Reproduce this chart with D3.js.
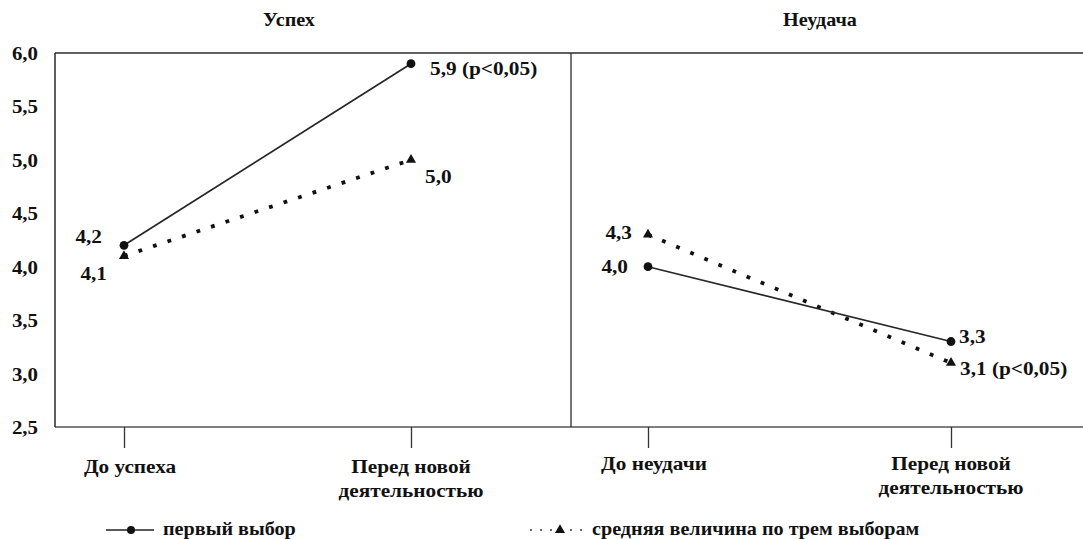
<!DOCTYPE html>
<html>
<head>
<meta charset="utf-8">
<script src="https://cdn.jsdelivr.net/npm/d3@7"></script>
<style>
  html, body { margin: 0; padding: 0; background: #fff; }
  svg { display: block; }
  svg text {
    font-family: "Liberation Serif", "Tinos", "Times New Roman", "Nimbus Roman", "Nimbus Roman No9 L", "FreeSerif", "Noto Serif", "DejaVu Serif", Georgia, serif !important;
    font-weight: bold;
    fill: #111;
  }
</style>
</head>
<body>
<svg id="chart" width="1083" height="539"></svg>
<script>
// data
const panelTitles = ['Успех', 'Неудача']
const categoriesSuccess = ['До успеха', 'Перед новой|деятельностью']
const categoriesFailure = ['До неудачи', 'Перед новой|деятельностью']
const firstChoiceSuccess = [4.2, 5.9]
const averageSuccess = [4.1, 5.0]
const firstChoiceFailure = [4.0, 3.3]
const averageFailure = [4.3, 3.1]
const notesFirstSuccess = ['', ' (p<0,05)']
const notesAverageSuccess = ['', '']
const notesFirstFailure = ['', '']
const notesAverageFailure = ['', ' (p<0,05)']
const yTicks = [2.5, 3.0, 3.5, 4.0, 4.5, 5.0, 5.5, 6.0]
const seriesNames = ['первый выбор', 'средняя величина по трем выборам']

const W = 1083
const frame = { left: 55, mid: 571, right: W, top: 53, bottom: 427 }

const locale = d3.formatLocale({ decimal: ',', thousands: ' ', grouping: [3], currency: ['', ''] })
const fmt = locale.format('.1f')

const svg = d3.select('#chart')

const y = d3.scaleLinear()
  .domain([2.5, 6.0])
  .range([frame.bottom, frame.top])

// label offsets: [dx, dy, anchor] per point
const panels = [
  {
    title: panelTitles[0],
    titleX: 289,
    categories: categoriesSuccess,
    range: [124, 411],
    first: firstChoiceSuccess,
    average: averageSuccess,
    notesFirst: notesFirstSuccess,
    notesAverage: notesAverageSuccess,
    offFirst: [[-22, -2, 'end'], [19, 11, 'start']],
    offAverage: [[-17, 24, 'end'], [14, 23, 'start']],
    labelY: [473, 497],
  },
  {
    title: panelTitles[1],
    titleX: 820,
    categories: categoriesFailure,
    range: [648, 951],
    first: firstChoiceFailure,
    average: averageFailure,
    notesFirst: notesFirstFailure,
    notesAverage: notesAverageFailure,
    offFirst: [[-20, 6, 'end'], [8, 1, 'start']],
    offAverage: [[-16, 4, 'end'], [9, 12, 'start']],
    labelY: [470, 494],
  },
]

// frame
const frameG = svg.append('g')
  .attr('fill', 'none')
  .attr('stroke', '#2a2a2a')
  .attr('stroke-width', 1.5)

frameG.append('line')
  .attr('x1', frame.left).attr('x2', frame.right)
  .attr('y1', frame.top).attr('y2', frame.top)
frameG.append('line')
  .attr('x1', frame.left).attr('x2', frame.right)
  .attr('y1', frame.bottom).attr('y2', frame.bottom)
  .attr('stroke', '#555')
frameG.append('line')
  .attr('x1', frame.left).attr('x2', frame.left)
  .attr('y1', frame.top).attr('y2', frame.bottom)
frameG.append('line')
  .attr('x1', frame.mid).attr('x2', frame.mid)
  .attr('y1', frame.top).attr('y2', frame.bottom)
  .attr('stroke-width', 1.3)

// y axis
const yAxis = svg.append('g')
  .attr('transform', `translate(${frame.left},0)`)
  .call(d3.axisLeft(y).tickValues(yTicks).tickSize(0).tickPadding(17).tickFormat(fmt))

yAxis.attr('font-family', null).attr('font-size', null)
yAxis.select('.domain').remove()
yAxis.selectAll('text')
  .attr('font-size', 19)
  .attr('dy', '0.34em')
  .attr('transform', 'scale(1.1,1)')
  .attr('x', -17 / 1.1)

const triangle = d3.symbol().type(d3.symbolTriangle).size(44)

// widen text slightly like the scanned original
function stretched(sel, x, yy, anchor, size, txt) {
  return sel.append('text')
    .attr('transform', `translate(${x},${yy}) scale(1.12,1)`)
    .attr('text-anchor', anchor)
    .attr('font-size', size)
    .text(txt)
}

panels.forEach((p) => {
  const x = d3.scalePoint()
    .domain(p.categories)
    .range(p.range)

  // title
  stretched(svg, p.titleX, 26, 'middle', 18, p.title)

  // x axis ticks
  const xAxis = svg.append('g')
    .attr('transform', `translate(0,${frame.bottom})`)
    .call(d3.axisBottom(x).tickSize(21).tickFormat(''))
  xAxis.select('.domain').remove()
  xAxis.selectAll('line')
    .attr('stroke', '#333')
    .attr('stroke-width', 1.3)

  // x labels (two lines)
  p.categories.forEach((c) => {
    const lines = c.split('|')
    lines.forEach((ln, i) => {
      stretched(svg, x(c) + (lines.length === 1 ? 6 : 0), p.labelY[i], 'middle', 19, ln)
    })
  })

  const line = d3.line()
    .x((d, i) => x(p.categories[i]))
    .y((d) => y(d))

  // average (dotted)
  svg.append('path')
    .datum(p.average)
    .attr('d', line)
    .attr('fill', 'none')
    .attr('stroke', '#111')
    .attr('stroke-width', 3.8)
    .attr('stroke-dasharray', '3.8,11.5')

  // first choice (solid)
  svg.append('path')
    .datum(p.first)
    .attr('d', line)
    .attr('fill', 'none')
    .attr('stroke', '#262626')
    .attr('stroke-width', 1.7)

  svg.selectAll(null)
    .data(p.first)
    .enter()
    .append('circle')
    .attr('cx', (d, i) => x(p.categories[i]))
    .attr('cy', (d) => y(d))
    .attr('r', 4.4)
    .attr('fill', '#111')

  svg.selectAll(null)
    .data(p.average)
    .enter()
    .append('path')
    .attr('d', triangle)
    .attr('transform', (d, i) => `translate(${x(p.categories[i])},${y(d)})`)
    .attr('fill', '#111')

  // value labels
  p.first.forEach((d, i) => {
    const o = p.offFirst[i]
    stretched(svg, x(p.categories[i]) + o[0], y(d) + o[1], o[2], 19, fmt(d) + p.notesFirst[i])
  })
  p.average.forEach((d, i) => {
    const o = p.offAverage[i]
    stretched(svg, x(p.categories[i]) + o[0], y(d) + o[1], o[2], 19, fmt(d) + p.notesAverage[i])
  })
})

// legend
const legend = svg.append('g')

legend.append('line')
  .attr('x1', 106).attr('x2', 154)
  .attr('y1', 530).attr('y2', 530)
  .attr('stroke', '#222')
  .attr('stroke-width', 1.7)
legend.append('circle')
  .attr('cx', 131).attr('cy', 530)
  .attr('r', 4)
  .attr('fill', '#111')
stretched(legend, 163, 535, 'start', 18, seriesNames[0])

legend.append('line')
  .attr('x1', 530).attr('x2', 586)
  .attr('y1', 530).attr('y2', 530)
  .attr('stroke', '#666')
  .attr('stroke-width', 2)
  .attr('stroke-dasharray', '2,8')
legend.append('path')
  .attr('d', triangle)
  .attr('transform', 'translate(560,530)')
  .attr('fill', '#111')
stretched(legend, 592, 535, 'start', 18, seriesNames[1])
</script>
</body>
</html>
